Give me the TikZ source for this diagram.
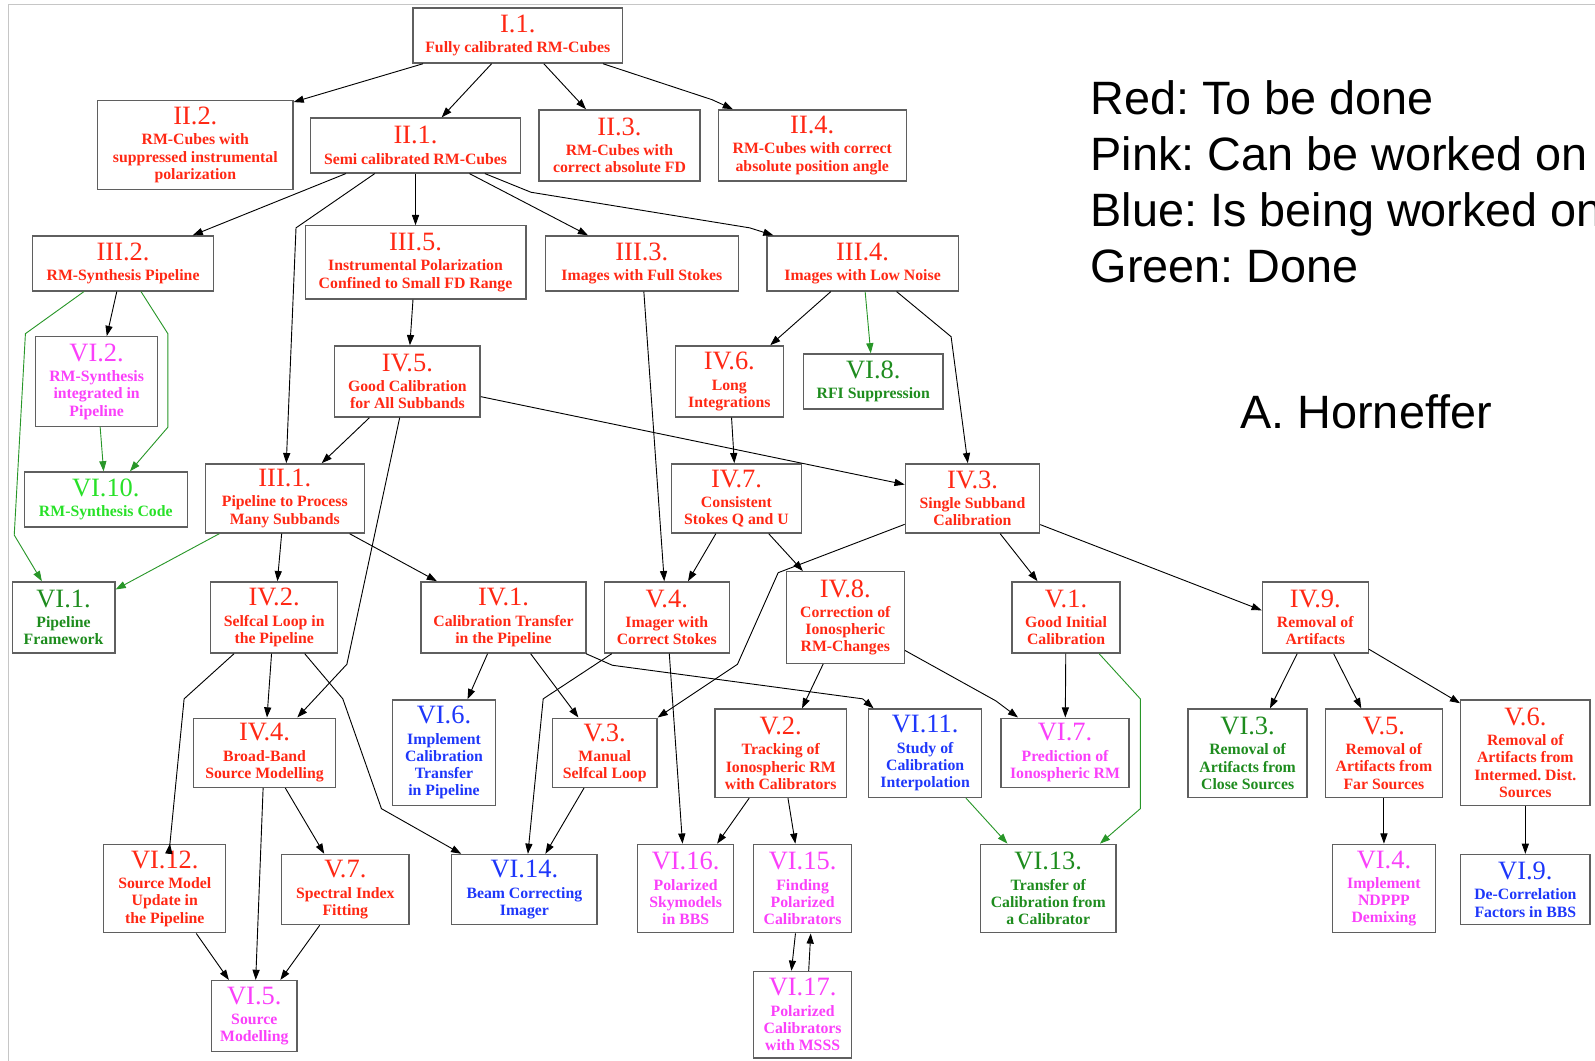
\documentclass[tikz,border=0pt]{standalone}
\usepackage{fontspec}
\setmainfont{Liberation Serif}
\newfontfamily\legendfont{Liberation Sans}
\usetikzlibrary{arrows.meta}
\definecolor{todored}{RGB}{255,40,20}
\definecolor{canpink}{RGB}{250,64,250}
\definecolor{busyblue}{RGB}{30,55,250}
\definecolor{donegreen}{RGB}{30,140,30}
\definecolor{codegreen}{RGB}{40,225,40}
\definecolor{boxgray}{RGB}{95,95,95}
\definecolor{arrowgreen}{RGB}{40,150,40}
\newcommand{\tnum}[1]{{\fontsize{26}{26}\selectfont\mdseries #1}\\[3pt]}
\frenchspacing

\begin{document}
\begin{tikzpicture}[x=1pt, y=-1pt, >={Triangle[length=10pt,width=7pt]},
    task/.style = {draw=boxgray, line width=1.3pt, align=center, inner sep=2pt, font=\fontsize{15.5}{17}\selectfont\bfseries},
    todo/.style = {task, text=todored},
    canwork/.style = {task, text=canpink},
    working/.style = {task, text=busyblue},
    done/.style = {task, text=donegreen},
    donecode/.style = {task, text=codegreen},
    link/.style = {->, line width=0.9pt},
    donelink/.style = {link, draw=arrowgreen},
    legend/.style = {inner sep=0pt, font=\legendfont\fontsize{46}{46}\selectfont}]
    \useasboundingbox (0,0) rectangle (1568,1043);
    \draw[gray!45, line width=1pt] (8,1043) -- (8,4) -- (1568,4);

    % level I and II
    \node[todo, minimum width=206pt, minimum height=54pt] (i1) at (509,35) {\tnum{I.1.}Fully calibrated RM-Cubes};
    \node[todo, minimum width=192pt, minimum height=87pt] (ii2) at (192,142.5) {\tnum{II.2.}RM-Cubes with\\suppressed instrumental\\polarization};
    \node[todo, minimum width=207pt, minimum height=54pt] (ii1) at (408.5,143) {\tnum{II.1.}Semi calibrated RM-Cubes};
    \node[todo, minimum width=158pt, minimum height=70pt] (ii3) at (609,143) {\tnum{II.3.}RM-Cubes with\\correct absolute FD};
    \node[todo, minimum width=185pt, minimum height=70pt] (ii4) at (798.5,143) {\tnum{II.4.}RM-Cubes with correct\\absolute position angle};

    % level III
    \node[todo, minimum width=178pt, minimum height=54pt] (iii2) at (121,259) {\tnum{III.2.}RM-Synthesis Pipeline};
    \node[todo, minimum width=217pt, minimum height=72pt] (iii5) at (408.5,258) {\tnum{III.5.}Instrumental Polarization\\Confined to Small FD Range};
    \node[todo, minimum width=190pt, minimum height=54pt] (iii3) at (631,259) {\tnum{III.3.}Images with Full Stokes};
    \node[todo, minimum width=188pt, minimum height=54pt] (iii4) at (848,259) {\tnum{III.4.}Images with Low Noise};
    \node[canwork, minimum width=120pt, minimum height=88pt] (vi2) at (95,375) {\tnum{VI.2.}RM-Synthesis\\integrated in\\Pipeline};
    \node[todo, minimum width=143pt, minimum height=70pt] (iv5) at (400.5,375) {\tnum{IV.5.}Good Calibration\\for All Subbands};
    \node[todo, minimum width=106pt, minimum height=70pt] (iv6) at (717,375) {\tnum{IV.6.}Long\\Integrations};
    \node[done, minimum width=137pt, minimum height=54pt] (vi8) at (858.5,375) {\tnum{VI.8.}RFI Suppression};
    \node[donecode, minimum width=160pt, minimum height=54pt] (vi10) at (104,491) {\tnum{VI.10.}RM-Synthesis Code};
    \node[todo, minimum width=156pt, minimum height=68pt] (iii1) at (280,490) {\tnum{III.1.}Pipeline to Process\\Many Subbands};
    \node[todo, minimum width=128pt, minimum height=68pt] (iv7) at (724,490) {\tnum{IV.7.}Consistent\\Stokes Q and U};
    \node[todo, minimum width=132pt, minimum height=68pt] (iv3) at (956,490) {\tnum{IV.3.}Single Subband\\Calibration};

    % level IV
    \node[done, minimum width=101pt, minimum height=70pt] (vi1) at (62.5,607) {\tnum{VI.1.}Pipeline\\Framework};
    \node[todo, minimum width=125pt, minimum height=70pt] (iv2) at (269.5,607) {\tnum{IV.2.}Selfcal Loop in\\the Pipeline};
    \node[todo, minimum width=162pt, minimum height=70pt] (iv1) at (495,607) {\tnum{IV.1.}Calibration Transfer\\in the Pipeline};
    \node[todo, minimum width=123pt, minimum height=70pt] (v4) at (655.5,607) {\tnum{V.4.}Imager with\\Correct Stokes};
    \node[todo, minimum width=116pt, minimum height=90pt] (iv8) at (831,607) {\tnum{IV.8.}Correction of\\Ionospheric\\RM-Changes};
    \node[todo, minimum width=106pt, minimum height=70pt] (v1) at (1048,607) {\tnum{V.1.}Good Initial\\Calibration};
    \node[todo, minimum width=104pt, minimum height=70pt] (iv9) at (1293,607) {\tnum{IV.9.}Removal of\\Artifacts};

    % level V
    \node[todo, minimum width=140pt, minimum height=68pt] (iv4) at (260,740) {\tnum{IV.4.}Broad-Band\\Source Modelling};
    \node[working, minimum width=101pt, minimum height=104pt] (vi6) at (436.5,740) {\tnum{VI.6.}Implement\\Calibration\\Transfer\\in Pipeline};
    \node[todo, minimum width=103pt, minimum height=68pt] (v3) at (594.5,740) {\tnum{V.3.}Manual\\Selfcal Loop};
    \node[todo, minimum width=129pt, minimum height=87pt] (v2) at (767.5,740.5) {\tnum{V.2.}Tracking of\\Ionospheric RM\\with Calibrators};
    \node[working, minimum width=111pt, minimum height=87pt] (vi11) at (909.5,740.5) {\tnum{VI.11.}Study of\\Calibration\\Interpolation};
    \node[canwork, minimum width=126pt, minimum height=68pt] (vi7) at (1047,740) {\tnum{VI.7.}Prediction of\\Ionospheric RM};
    \node[done, minimum width=117pt, minimum height=87pt] (vi3) at (1226.5,740.5) {\tnum{VI.3.}Removal of\\Artifacts from\\Close Sources};
    \node[todo, minimum width=115pt, minimum height=87pt] (v5) at (1360.5,740.5) {\tnum{V.5.}Removal of\\Artifacts from\\Far Sources};
    \node[todo, minimum width=127pt, minimum height=104pt] (v6) at (1499.5,740) {\tnum{V.6.}Removal of\\Artifacts from\\Intermed. Dist.\\Sources};

    % level VI
    \node[todo, minimum width=120pt, minimum height=87pt] (vi12) at (162,873.5) {\tnum{VI.12.}Source Model\\Update in\\the Pipeline};
    \node[todo, minimum width=125pt, minimum height=69pt] (v7) at (339.5,874.5) {\tnum{V.7.}Spectral Index\\Fitting};
    \node[working, minimum width=143pt, minimum height=69pt] (vi14) at (515.5,874.5) {\tnum{VI.14.}Beam Correcting\\Imager};
    \node[canwork, minimum width=94pt, minimum height=87pt] (vi16) at (674,873.5) {\tnum{VI.16.}Polarized\\Skymodels\\in BBS};
    \node[canwork, minimum width=96pt, minimum height=87pt] (vi15) at (789,873.5) {\tnum{VI.15.}Finding\\Polarized\\Calibrators};
    \node[done, minimum width=133pt, minimum height=87pt] (vi13) at (1030.5,873.5) {\tnum{VI.13.}Transfer of\\Calibration from\\a Calibrator};
    \node[canwork, minimum width=101pt, minimum height=87pt] (vi4) at (1360.5,873.5) {\tnum{VI.4.}Implement\\NDPPP\\Demixing};
    \node[working, minimum width=127pt, minimum height=69pt] (vi9) at (1499.5,874.5) {\tnum{VI.9.}De-Correlation\\Factors in BBS};
    \node[canwork, minimum width=84pt, minimum height=70pt] (vi5) at (250,999) {\tnum{VI.5.}Source\\Modelling};
    \node[canwork, minimum width=96pt, minimum height=85pt] (vi17) at (789,997.5) {\tnum{VI.17.}Polarized\\Calibrators\\with MSSS};

    % legend
    \node[legend, anchor=base west] (lred) at (1072,112.5) {Red: To be done};
    \node[legend, anchor=base west] (lpink) at (1072,167.5) {Pink: Can be worked on};
    \node[legend, anchor=base west] (lblue) at (1072,222.5) {Blue: Is being worked on};
    \node[legend, anchor=base west] (lgreen) at (1072,277.5) {Green: Done};
    \node[legend, anchor=base] (author) at (1343,421.5) {A. Horneffer};

    % dependencies
    \draw[link] (i1) -- ([yshift=-2pt]ii2.north east);
    \draw[link] (i1) -- (ii1);
    \draw[link] (i1) -- (ii3);
    \draw[link] (i1) -- (700,98) -- (ii4);
    \draw[link] (ii1) -- (iii2);
    \draw[link] (ii1) -- (291,224) -- (iii1);
    \draw[link] (ii1) -- (iii5);
    \draw[link] (ii1) -- (iii3);
    \draw[link] (ii1) -- (522,189) -- (737,224) -- (iii4);
    \draw[link] (iii2) -- (vi2);
    \draw[donelink] (iii2) -- (165,328) -- (165,420) -- (vi10);
    \draw[donelink] (iii2) -- (25,328) -- (14,526) -- (vi1);
    \draw[donelink] (vi2) -- (vi10);
    \draw[link] (iii5) -- (iv5);
    \draw[link] (iii3) -- (v4);
    \draw[link] (iii4) -- (iv6);
    \draw[donelink] (iii4) -- (vi8);
    \draw[link] (iii4) -- (935,331) -- (iv3);
    \draw[link] (iv5) -- (iii1);
    \draw[link] (iv5) -- (341,653) -- (iv4);
    \draw[link] (iv5) -- (iv3);
    \draw[link] (iv6) -- (iv7);
    \draw[donelink] (iii1) -- (vi1);
    \draw[link] (iii1) -- (iv2);
    \draw[link] (iii1) -- (iv1);
    \draw[link] (iv7) -- (v4);
    \draw[link] (iv7) -- (iv8);
    \draw[link] (iv3) -- (765,563) -- (725,653) -- (v3);
    \draw[link] (iv3) -- (v1);
    \draw[link] (iv3) -- ([yshift=7pt]iv9.west);
    \draw[link] (iv2) -- (181,687) -- (167,830) -- (vi12);
    \draw[link] (iv2) -- (iv4);
    \draw[link] (iv2) -- (337,687) -- (375,795) -- (vi14);
    \draw[link] (iv1) -- (vi6);
    \draw[link] (iv1) -- (v3);
    \draw[link] (iv1) -- (602,654) -- (848,687) -- (vi11);
    \draw[link] (v4) -- (534,687) -- (vi14);
    \draw[link] (v4) -- (vi16);
    \draw[link] (v3) -- (vi14);
    \draw[link] (iv8) -- (v2);
    \draw[link] (iv8) -- (979,689) -- (vi7);
    \draw[link] (v1) -- (vi7);
    \draw[donelink] (v1) -- (1121,687) -- (1121,795) -- (vi13);
    \draw[donelink] (vi11) -- (vi13);
    \draw[link] (iv9) -- (vi3);
    \draw[link] (iv9) -- (v5);
    \draw[link] (iv9) -- ([yshift=-4pt]v6.north west);
    \draw[link] (v2) -- (vi16);
    \draw[link] (v2) -- (vi15);
    \draw[link] ([xshift=-7pt]vi15.south) -- ([xshift=-11pt]vi17.north);
    \draw[link] ([xshift=6pt]vi17.north) -- ([xshift=8pt]vi15.south);
    \draw[link] (v5) -- (vi4);
    \draw[link] (v6) -- (vi9);
    \draw[link] (iv4) -- (vi5);
    \draw[link] (iv4) -- (v7);
    \draw[link] (vi12) -- (vi5);
    \draw[link] (v7) -- (vi5);
\end{tikzpicture}
\end{document}
